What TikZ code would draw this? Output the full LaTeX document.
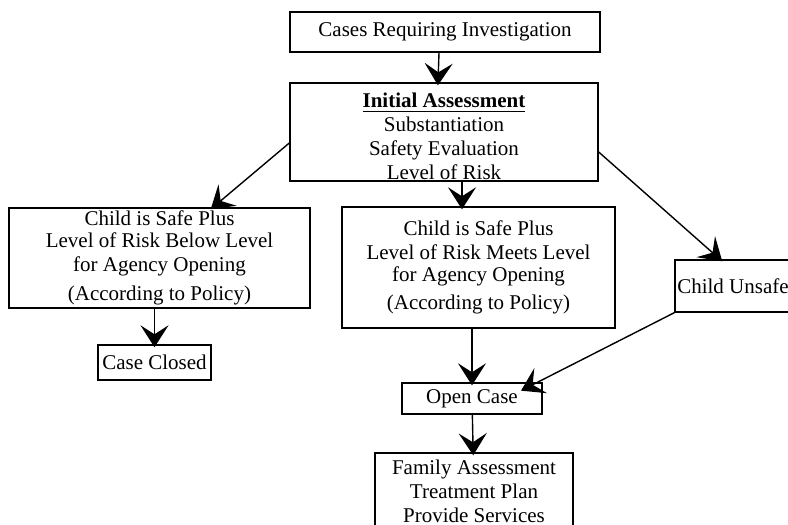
\documentclass[tikz,border=0pt]{standalone}
\usepackage{fontspec}
\setmainfont{Liberation Serif}
\usetikzlibrary{arrows.meta,positioning}

\begin{document}
\begin{tikzpicture}[x=0.5pt,y=-0.5pt,
  every node/.style={font=\fontsize{10.5}{12}\selectfont,align=center},
  box/.style={draw,line width=0.7pt,inner sep=1pt},
  arr/.style={line width=0.7pt,shorten >=-1.5pt,
    -{Stealth[length=11pt,width=14pt,inset=4.5pt]}}]
  \useasboundingbox (0,0) rectangle (788,525);

  % boxes
  \node[box,minimum width=155pt,minimum height=20pt] (cases) at (445,32)
    {Cases Requiring Investigation};
  \node[box,inner ysep=0pt,minimum width=154pt,minimum height=49pt] (init) at (444,132)
    {\rule{0pt}{12pt}\textbf{\underline{Initial Assessment}}\\Substantiation\\
     Safety Evaluation\\Level of Risk};
  \node[box,minimum width=150.5pt,minimum height=50pt] (below) at (159.5,258)
    {Child is Safe Plus\\[-1pt]Level of Risk Below Level\\for Agency Opening\\[2.5pt]
     (According to Policy)};
  \node[box,minimum width=136.5pt,minimum height=60.5pt] (meets) at (478.5,267.5)
    {Child is Safe Plus\\Level of Risk Meets Level\\[-1pt]for Agency Opening\\[2pt]
     (According to Policy)};
  \node[box,minimum width=58pt,minimum height=26pt] (unsafe) at (733,286)
    {Child Unsafe};
  \node[box,minimum width=56.5pt,minimum height=17.5pt] (closed) at (154.5,362.5)
    {Case Closed};
  \node[box,minimum width=70pt,minimum height=15.5pt] (open) at (472,398.5)
    {Open Case};
  \node[box,minimum width=99pt,minimum height=38pt] (family) at (474,491)
    {Family Assessment\\Treatment Plan\\Provide Services};

  % connectors
  \draw[arr] ([xshift=-3pt]cases.south) -- ([xshift=-3pt]init.north);
  \draw[arr] ([yshift=-5.5pt]init.west) -- ([xshift=26.75pt]below.north);
  \draw[arr] ([xshift=9pt]init.south) -- ([xshift=9pt]init.south |- meets.north);
  \draw[arr] ([yshift=-10pt]init.east) -- ([xshift=-6.5pt]unsafe.north);
  \draw[arr] (below.south -| closed) -- (closed.north);
  \draw[arr] (meets.south -| open) -- (open.north);
  \draw[arr] (unsafe.south west) -- ([xshift=-9.5pt,yshift=-3.5pt]open.north east);
  \draw[arr] (open) -- (family);
\end{tikzpicture}
\end{document}
